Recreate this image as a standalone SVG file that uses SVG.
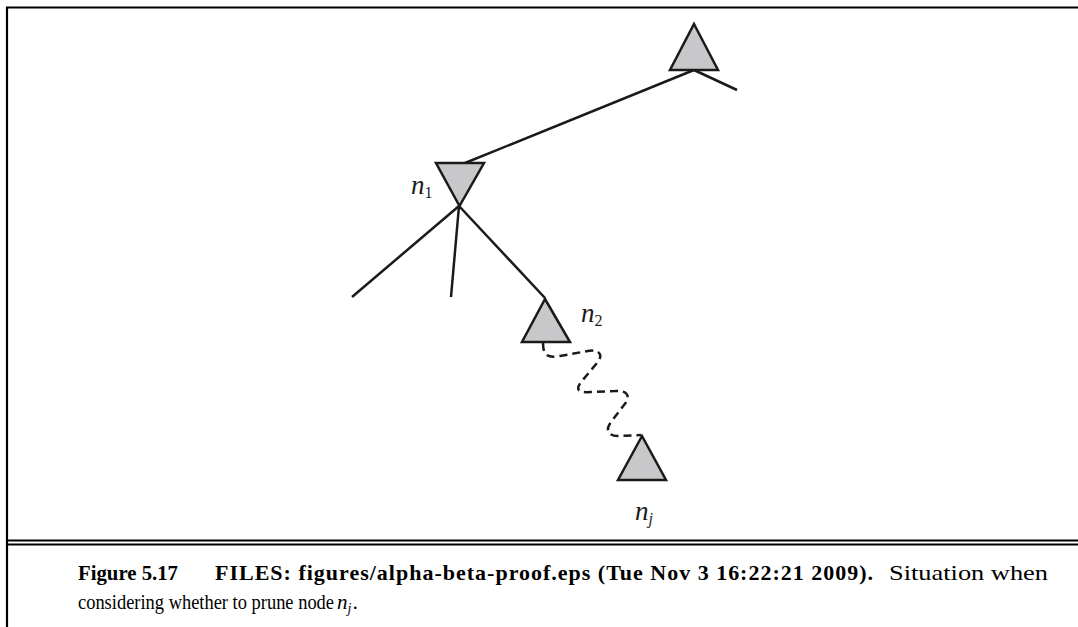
<svg xmlns="http://www.w3.org/2000/svg" width="1078" height="627" viewBox="0 0 1078 627">
<style>
.tri{fill:#c8c8ca;stroke:#1a1a1a;stroke-width:2.5;stroke-linejoin:miter}
.edge{stroke:#1a1a1a;stroke-width:2.5;fill:none}
.dash{stroke:#1a1a1a;stroke-width:2.5;fill:none;stroke-dasharray:8 5}
.lbl{font-family:"Liberation Serif",serif;font-style:italic;font-size:27px;fill:#1a1a1a}
.sub{font-family:"Liberation Serif",serif;font-size:16px;fill:#1a1a1a}
.cb{font-family:"Liberation Serif",serif;font-weight:bold;font-size:22px;fill:#000}
.cr{font-family:"Liberation Serif",serif;font-size:22px;fill:#000}
.frame{stroke:#000;stroke-width:2.2;fill:none}
</style>
<rect width="1078" height="627" fill="#fff"/>
<g id="frame">
<path class="frame" d="M7,627 L7,7.5 L1078,7.5"/>
<line class="frame" x1="7" y1="540.5" x2="1078" y2="540.5"/>
<line class="frame" x1="7" y1="544.5" x2="1078" y2="544.5"/>
</g>
<g id="connectors">
<line class="edge" x1="694" y1="70" x2="465" y2="163"/>
<line class="edge" x1="694" y1="70" x2="737" y2="90"/>
<line class="edge" x1="459" y1="206" x2="352" y2="297"/>
<line class="edge" x1="459" y1="206" x2="451" y2="297"/>
<line class="edge" x1="459" y1="206" x2="545" y2="298"/>
<path class="dash" d="M543,343 C543,356 548,358 560,356 L588,351 C599,349 604,355 597,363 L581,382 C575,390 579,393 590,392 L615,391 C628,390 631,397 624,405 L611,422 C605,430 608,436 618,436 L641,435"/>
</g>
<g id="root">
<polygon class="tri" points="694,24 718,70 670,70"/>
</g>
<g id="n1">
<polygon class="tri" points="436,163 484,163 459.5,206"/>
<text class="lbl" x="411" y="194">n<tspan class="sub" dy="4" font-style="normal">1</tspan></text>
</g>
<g id="n2">
<polygon class="tri" points="545,299 570,342 522,342"/>
<text class="lbl" x="581" y="322">n<tspan class="sub" dy="4" font-style="normal">2</tspan></text>
</g>
<g id="nj">
<polygon class="tri" points="642,436 666,480 618,480"/>
<text class="lbl" x="635" y="520">n<tspan class="sub" dy="4">j</tspan></text>
</g>
<g id="caption">
<text class="cb" x="78" y="580" textLength="100" lengthAdjust="spacingAndGlyphs">Figure 5.17</text>
<text class="cb" x="215" y="580" textLength="658" lengthAdjust="spacing">FILES: figures/alpha-beta-proof.eps (Tue Nov 3 16:22:21 2009).</text>
<text class="cr" x="889" y="580" font-size="24" textLength="159" lengthAdjust="spacingAndGlyphs">Situation when</text>
<text class="cr" x="78" y="609" textLength="256" lengthAdjust="spacingAndGlyphs">considering whether to prune node</text>
<text class="cr" x="337" y="609"><tspan font-style="italic" font-size="21">n</tspan><tspan font-style="italic" font-size="14" dy="4">j</tspan><tspan dy="-4" dx="1">.</tspan></text>
</g>
</svg>
